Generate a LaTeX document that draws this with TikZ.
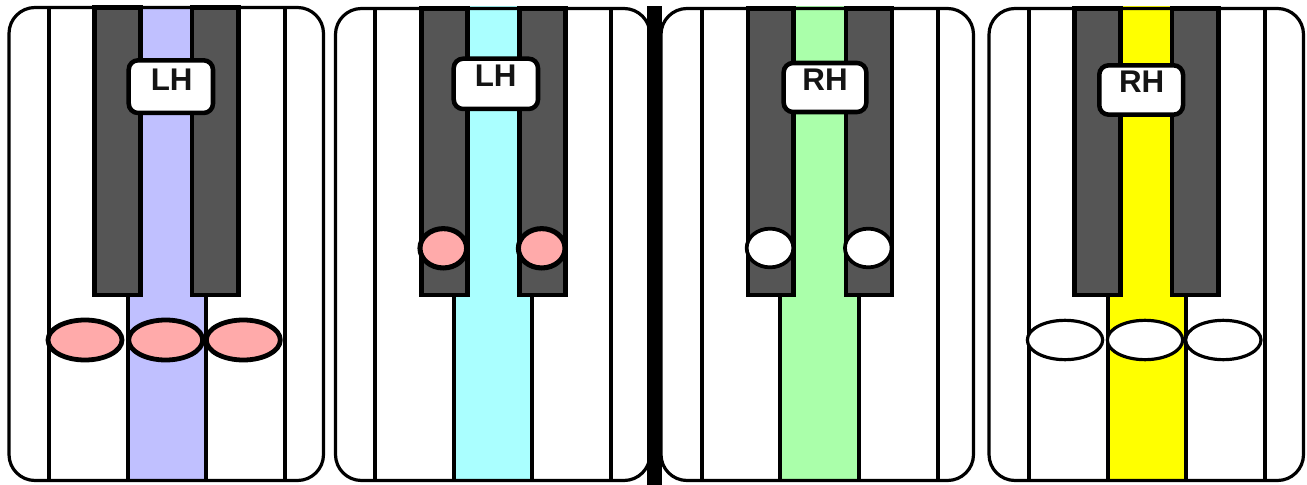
\documentclass[tikz,border=0pt]{standalone}
\usepackage{fontspec}
\setmainfont{Liberation Sans}
\usetikzlibrary{shapes.geometric}
\definecolor{bandA}{HTML}{C0C0FF}
\definecolor{bandB}{HTML}{AAFFFF}
\definecolor{bandC}{HTML}{AAFFAA}
\definecolor{bandD}{HTML}{FFFF00}
\definecolor{keyblack}{HTML}{555555}
\definecolor{pinkdot}{HTML}{FFAAAA}
\tikzset{
  panelline/.style={draw=black,line width=2.4pt,rounded corners=19.5pt},
  keyline/.style={draw=black,line width=3pt},
  blackkey/.style={draw=black,fill=keyblack,line width=3.4pt},
  pinkel/.style={ellipse,draw=black,fill=pinkdot,line width=3.6pt,inner sep=0pt},
  whiteel/.style={ellipse,draw=black,fill=white,line width=2.4pt,inner sep=0pt},
  lbox/.style={draw=black,fill=white,line width=3.4pt,rounded corners=7pt,inner sep=0pt},
  ltext/.style={anchor=base,inner sep=0pt,font=\fontsize{23.5pt}{23.5pt}\selectfont\bfseries,text=black!92}
}
\begin{document}
\begin{tikzpicture}[x=0.75pt,y=-0.75pt]
\useasboundingbox (0,0) rectangle (1307,485);
\fill[white] (0,0) rectangle (1307,485);

% ---------- Panel 1 ----------
\fill[white] (9,7.5) [rounded corners=19.5pt] rectangle (323.5,480.5);
\fill[bandA] (127.7,6) rectangle (205.7,480.5);
\foreach \x in {49.3,127.7,205.7,285} \draw[keyline] (\x,7.5) -- (\x,480.5);
\draw[panelline] (9,7.5) rectangle (323.5,480.5);
\draw[blackkey] (94.7,7.5) rectangle (140.7,295);
\draw[blackkey] (192,7.5) rectangle (238.7,295);
\node[pinkel,minimum width=55.5pt,minimum height=30pt] (p1a) at (85,340) {};
\node[pinkel,minimum width=55.5pt,minimum height=30pt] (p1b) at (165.7,340) {};
\node[pinkel,minimum width=55.5pt,minimum height=30pt] (p1c) at (243.3,340) {};
\node[lbox,minimum width=63.2pt,minimum height=39.5pt] (l1) at (170.85,86.65) {};
\node[ltext] (t1) at (171.7,90) {LH};

% ---------- Panel 2 ----------
\fill[white] (335.5,8.5) [rounded corners=19.5pt] rectangle (650,480.5);
\fill[bandB] (454.3,6) rectangle (531.7,480.5);
\foreach \x in {375,454.3,531.7,611} \draw[keyline] (\x,8.5) -- (\x,480.5);
\draw[panelline] (335.5,8.5) rectangle (650,480.5);
\draw[blackkey] (421.3,8.5) rectangle (467.3,295);
\draw[blackkey] (519.3,8.5) rectangle (565.7,295);
\node[pinkel,line width=3.8pt,minimum width=35pt,minimum height=29.5pt] (p2a) at (443.3,248.3) {};
\node[pinkel,line width=3.8pt,minimum width=35pt,minimum height=29.5pt] (p2b) at (541.7,248.3) {};
\node[lbox,minimum width=63.2pt,minimum height=37.7pt] (l2) at (495.85,83.85) {};
\node[ltext] (t2) at (495.7,87) {LH};

% ---------- Panel 3 ----------
\fill[white] (661,8.5) [rounded corners=19.5pt] rectangle (973.5,480.5);
\fill[bandC] (780,6) rectangle (859,480.5);
\foreach \x in {702.3,780,859,937.7} \draw[keyline] (\x,8.5) -- (\x,480.5);
\draw[panelline] (661,8.5) rectangle (973.5,480.5);
\draw[blackkey] (748,8.5) rectangle (793.7,295);
\draw[blackkey] (846,8.5) rectangle (892,295);
\node[whiteel,line width=2.8pt,minimum width=35pt,minimum height=29pt] (p3a) at (770,248) {};
\node[whiteel,line width=2.8pt,minimum width=35pt,minimum height=29pt] (p3b) at (868.3,248) {};
\node[lbox,minimum width=62pt,minimum height=36.75pt] (l3) at (825,87.5) {};
\node[ltext] (t3) at (825,90) {RH};

% ---------- Panel 4 ----------
\fill[white] (989,8.5) [rounded corners=19.5pt] rectangle (1303.5,480.5);
\fill[bandD] (1107.7,6) rectangle (1185.7,480.5);
\foreach \x in {1029.3,1107.7,1185.7,1265} \draw[keyline] (\x,8.5) -- (\x,480.5);
\draw[panelline] (989,8.5) rectangle (1303.5,480.5);
\draw[blackkey] (1074.3,8.5) rectangle (1120.7,295);
\draw[blackkey] (1172,8.5) rectangle (1218.7,295);
\node[whiteel,minimum width=56.5pt,minimum height=29.5pt] (p4a) at (1065,340) {};
\node[whiteel,minimum width=56.5pt,minimum height=29.5pt] (p4b) at (1145,340) {};
\node[whiteel,minimum width=56.5pt,minimum height=29.5pt] (p4c) at (1223.3,340) {};
\node[lbox,minimum width=62.8pt,minimum height=37pt] (l4) at (1141.15,90) {};
\node[ltext] (t4) at (1141.7,93) {RH};

% ---------- Divider ----------
\fill[black] (647,6) rectangle (662,485);
\end{tikzpicture}
\end{document}
